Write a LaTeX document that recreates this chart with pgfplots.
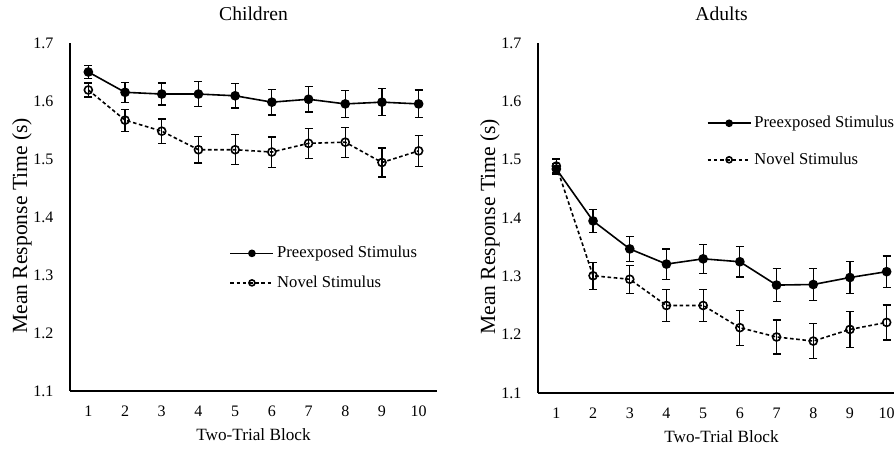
\documentclass[border=0pt]{standalone}
\usepackage{fontspec}
\setmainfont{Liberation Serif}
\usepackage{pgfplots}
\usepackage{pgfplotstable}
\pgfplotsset{compat=1.18}

% x  mean  se
\pgfplotstableread{
x y e
1 1.650 0.011
2 1.615 0.017
3 1.612 0.019
4 1.612 0.021
5 1.609 0.021
6 1.598 0.022
7 1.603 0.022
8 1.595 0.023
9 1.598 0.023
10 1.595 0.024
}\childpre
\pgfplotstableread{
x y e
1 1.619 0.012
2 1.567 0.019
3 1.548 0.021
4 1.516 0.023
5 1.516 0.026
6 1.512 0.026
7 1.527 0.026
8 1.529 0.026
9 1.494 0.025
10 1.514 0.027
}\childnov
\pgfplotstableread{
x y e
1 1.484 0.010
2 1.395 0.020
3 1.347 0.021
4 1.321 0.026
5 1.330 0.025
6 1.325 0.026
7 1.285 0.028
8 1.286 0.028
9 1.298 0.027
10 1.308 0.027
}\adultpre
\pgfplotstableread{
x y e
1 1.489 0.012
2 1.301 0.023
3 1.295 0.024
4 1.250 0.027
5 1.250 0.028
6 1.212 0.030
7 1.196 0.029
8 1.189 0.030
9 1.209 0.031
10 1.221 0.030
}\adultnov

\pgfplotsset{
  rtpanel/.style={
    scale only axis, width=183.5pt,
    xmin=0.5, xmax=10.5, ymin=1.1, ymax=1.7,
    xtick={1,...,10}, ytick={1.1,1.2,...,1.7},
    /pgf/number format/assume math mode=true,
    axis x line*=bottom, axis y line*=left,
    axis line style={-, line width=0.8pt, black},
    major tick length=0pt,
    tick label style={font=\fontsize{8}{9}\selectfont},
    xticklabel style={yshift=-4pt},
    yticklabel style={xshift=-4.8pt, /pgf/number format/fixed,
      /pgf/number format/fixed zerofill, /pgf/number format/precision=1},
    title style={font=\fontsize{9.8}{11}\selectfont, at={(0.5,1)}, anchor=base, yshift=5.5pt},
    xlabel={Two-Trial Block},
    xlabel style={font=\fontsize{8.6}{10}\selectfont, at={(axis description cs:0.5,-0.126)}, anchor=center},
    ylabel={Mean Response Time (s)},
    ylabel style={font=\fontsize{10.8}{12}\selectfont, at={(axis description cs:-0.131,0.475)}, anchor=center},
    legend cell align=left,
    legend style={draw=none, fill=none, inner sep=0pt, outer sep=0pt,
      font=\fontsize{8.3}{10}\selectfont, anchor=north west,
      nodes={inner sep=1.5pt}},
    legend image code/.code={
      \draw[mark repeat=2, mark phase=2, #1, /tikz/every mark/.append style={solid, scale=0.75}]
        plot coordinates {(0pt,0pt) (10.75pt,0pt) (21.5pt,0pt)};},
  },
  pre/.style={black, line width=0.8pt, mark=*, mark size=2pt,
    error bars/.cd, y dir=both, y explicit,
    error bar style={line width=0.6pt, solid},
    error mark options={rotate=90, mark size=2pt, line width=0.6pt}},
  nov/.style={black, line width=0.8pt, dash pattern=on 1.8pt off 1.3pt,
    mark=o, mark size=2pt, mark options={solid, fill=white},
    error bars/.cd, y dir=both, y explicit,
    error bar style={line width=0.6pt, solid},
    error mark options={rotate=90, mark size=2pt, line width=0.6pt}},
}

\begin{document}
\begin{tikzpicture}
\begin{axis}[rtpanel, height=174pt, title={Children},
  legend style={at={(rel axis cs:0.435,0.425)}, row sep=4.5pt}]
\addplot[pre] table[x=x, y=y, y error=e] {\childpre};
\addlegendentry{Preexposed Stimulus}
\addplot[nov] table[x=x, y=y, y error=e] {\childnov};
\addlegendentry{Novel Stimulus}
\end{axis}
\begin{axis}[rtpanel, at={(234pt,-1pt)}, height=175pt, title={Adults},
  legend style={at={(rel axis cs:0.46,0.80)}, row sep=8pt}]
\addplot[pre] table[x=x, y=y, y error=e] {\adultpre};
\addlegendentry{Preexposed Stimulus}
\addplot[nov] table[x=x, y=y, y error=e] {\adultnov};
\addlegendentry{Novel Stimulus}
\end{axis}
\pgfresetboundingbox
\path[use as bounding box] (-35pt,-29pt) rectangle (412pt,195.5pt);
\end{tikzpicture}
\end{document}
